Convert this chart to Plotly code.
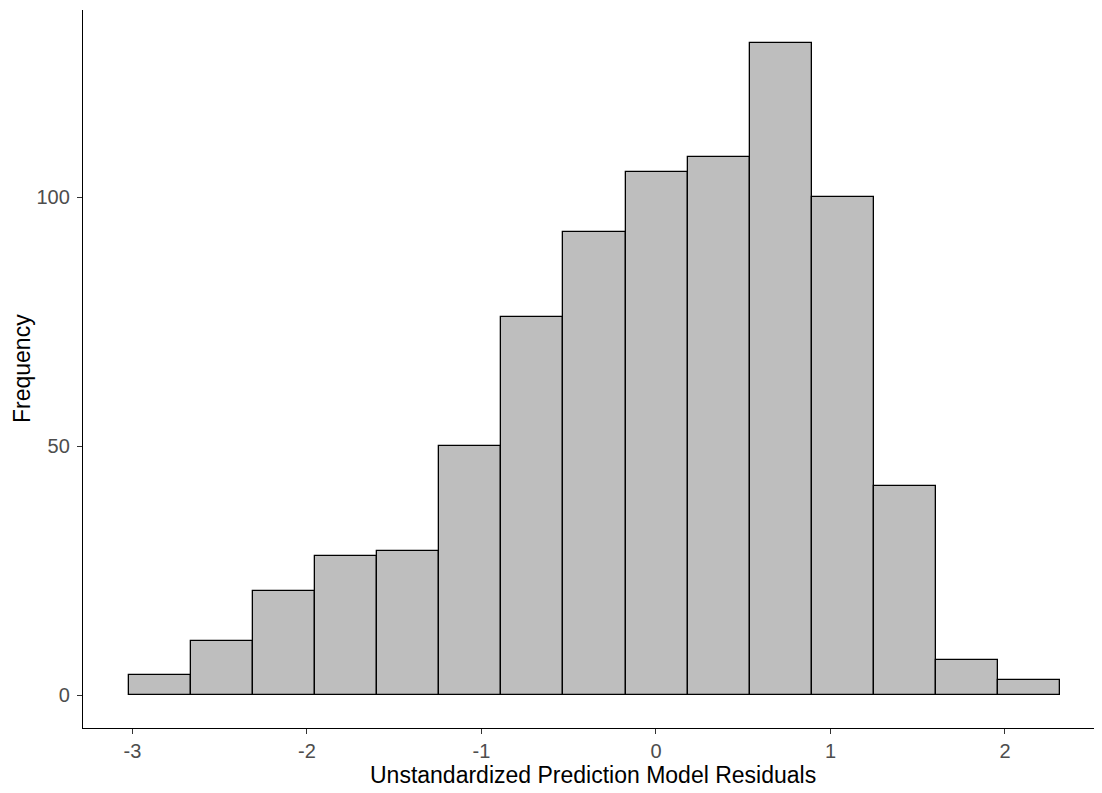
import plotly.graph_objects as go

# Histogram data
counts = [4, 11, 21, 28, 29, 50, 76, 93, 105, 108, 131, 100, 42, 7, 3]
first_edge = -3.019
bin_width = 0.3556
x_ticks = [-3, -2, -1, 0, 1, 2]
y_ticks = [0, 50, 100]
x_title = "Unstandardized Prediction Model Residuals"
y_title = "Frequency"

centers = [first_edge + bin_width * (i + 0.5) for i in range(len(counts))]

fig = go.Figure(go.Bar(
    x=centers, y=counts, width=[bin_width] * len(counts),
    marker=dict(color="#bebebe", line=dict(color="black", width=1.3)),
    hoverinfo="x+y",
))

ymax = max(counts)

axis_common = dict(
    showgrid=False, zeroline=False, automargin=False,
    showline=True, linecolor="black", linewidth=1.3,
    ticks="outside", ticklen=5, tickcolor="#333333", tickwidth=1.2,
    tickfont=dict(size=20, color="#4d4d4d"),
)

# page body has an 8px default margin, so the figure is sized to fit inside it;
# the reference's panel runs off its right edge
fig.update_layout(
    width=1094, height=785,
    margin=dict(l=75, r=0, t=2, b=65),
    paper_bgcolor="white", plot_bgcolor="white",
    font=dict(family="Liberation Sans, Arial, sans-serif"),
    showlegend=False, bargap=0,
    xaxis=dict(range=[-3.283, 2.556], tickvals=x_ticks,
               ticktext=[str(v) for v in x_ticks], **axis_common),
    yaxis=dict(range=[-ymax * 0.05, ymax * 1.05], tickvals=y_ticks,
               ticklabelstandoff=3, **axis_common),
    annotations=[
        dict(text=x_title, xref="paper", yref="paper", x=0.5, y=0,
             xanchor="center", yanchor="middle", yshift=-47, showarrow=False,
             font=dict(size=23, color="black")),
        dict(text=y_title, xref="paper", yref="paper", x=0, y=0.5,
             xanchor="center", yanchor="middle", xshift=-61, textangle=-90,
             showarrow=False, font=dict(size=23, color="black")),
    ],
)

fig.write_html("out.html")
